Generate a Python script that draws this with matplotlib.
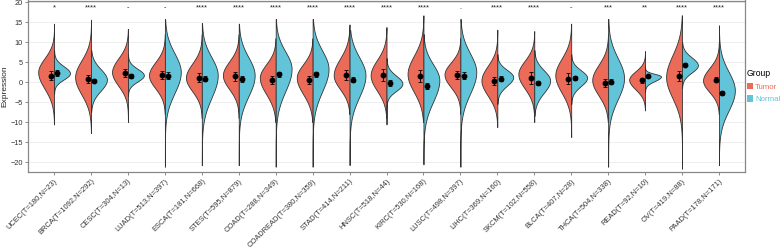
from matplotlib import pyplot as plt
from matplotlib.patches import Patch
import numpy as np

plt.rcParams['font.family'] = ['Liberation Sans', 'DejaVu Sans']

# cancer types and sample sizes
cancers = ['UCEC', 'BRCA', 'CESC', 'LUAD', 'ESCA', 'STES', 'COAD', 'COADREAD', 'STAD', 'HNSC',
           'KIRC', 'LUSC', 'LIHC', 'SKCM', 'BLCA', 'THCA', 'READ', 'OV', 'PAAD']
n_tumor = [180, 1092, 304, 513, 181, 595, 288, 380, 414, 518, 530, 498, 369, 102, 407, 504, 92, 419, 178]
n_normal = [23, 292, 13, 397, 668, 879, 349, 359, 211, 44, 168, 397, 160, 558, 28, 338, 10, 88, 171]
signif = ['*', '****', '-', '-', '****', '****', '****', '****', '****', '****',
          '****', '.', '****', '****', '-', '***', '**', '****', '****']

# tumor violin outline: tail ends, body top/bottom and peak
t_hi = [14.6, 15.6, 13.3, 12, 12, 12, 11, 11, 14.4, 13.75, 16.7, 11, 13.1, 12.75, 14.6, 12, 7.75, 16.7, 10]
t_top = [10.4, 10.8, 10.4, 9.2, 9.2, 9.6, 8.75, 8.75, 11.25, 10.4, 12.5, 8.75, 8.75, 9.6, 11.25, 9.2, 5.4, 13.75, 7.5]
t_peak = [2.5, 1.25, 2.5, 1.7, 1.1, 1.7, 1.1, 1.1, 1.7, 1.7, 2.0, 1.9, 0.4, 2.0, 1.7, 0.5, 0.6, 1.25, 0.4]
t_bot = [-7, -8.75, -5.4, -5.8, -6.7, -6.25, -8.3, -8.3, -6.25, -7.1, -8.3, -5.4, -8.3, -6.25, -8.3, -8.3, -5, -10.8, -6.25]
t_lo = [-10.6, -12.75, -10, -8, -9, -9, -10, -10, -8, -9, -10, -8, -11.25, -10, -13.75, -10, -7.1, -21.7, -8]

# normal violin outline
n_hi = [8, 8, 7, 15.8, 14.75, 14.6, 15.8, 15.8, 13, 6, 12, 15.8, 7, 8, 7, 15.8, 4, 10, 14.2]
n_top = [6.25, 6.7, 5.4, 13.3, 12.1, 12.1, 13.3, 13.75, 12.1, 4.2, 9.6, 13.3, 5.4, 6.25, 5.4, 12.5, 2.9, 8.75, 8.75]
n_peak = [2.2, 0.6, 1.7, 2.5, 1.7, 1.7, 3.3, 3.3, 1.7, -0.4, 0.5, 2.5, 1.25, 0.4, 1.1, 1.0, 1.4, 4.2, -2.1]
n_bot = [-1.4, -5.8, -1.9, -9.6, -11.25, -10.4, -9.6, -9.6, -10.8, -4.6, -12, -10, -3.75, -6.7, -3.75, -11.25, -1.25, 0, -13.75]
n_lo = [-3, -7.5, -3.5, -21.2, -20.8, -20.8, -21.2, -21.2, -20.8, -10.6, -20.6, -21.2, -5.5, -8.5, -5.5, -21.2, -2.5, -1.5, -20.8]

# mean +- error
t_mean = [1.6, 0.75, 2.25, 1.7, 1.1, 1.4, 0.6, 0.4, 1.7, 1.85, 1.4, 1.75, 0.2, 1.0, 0.85, -0.25, 0.4, 1.5, 0.6]
t_err = [1.1, 1.0, 1.1, 1.0, 1.1, 1.1, 1.0, 1.0, 1.2, 1.5, 1.5, 1.0, 1.0, 1.5, 1.4, 0.9, 0.6, 1.2, 0.7]
n_mean = [2.3, 0.3, 1.5, 1.6, 0.85, 0.7, 1.9, 1.9, 0.6, -0.25, -1.0, 1.6, 0.85, -0.25, 1.0, 0.1, 1.4, 4.35, -2.75]
n_err = [0.7, 0.4, 0.4, 0.8, 0.6, 0.8, 0.6, 0.6, 0.7, 0.7, 0.8, 0.8, 0.6, 0.5, 0.5, 0.7, 0.3, 0.3, 0.5]

c_tumor = '#EC6A58'
c_normal = '#62C4D9'
half_w = 0.43


# one half of a split violin
def half_violin(ax, x, lo, top, peak, bot, hi, side, color):
    ys = np.linspace(lo, hi, 400)
    s = np.where(ys >= peak, (top - peak) / 2.3, (peak - bot) / 2.3)
    w = half_w * np.exp(-0.5 * ((ys - peak) / s) ** 2)
    ax.fill_betweenx(ys, x + side * w, x, facecolor=color, edgecolor='#333333', linewidth=0.6, zorder=2)


fig = plt.figure(figsize=(7.84, 2.5), dpi=100)
ax = fig.add_axes([0.036, 0.312, 0.914, 0.686])

xpos = np.arange(len(cancers))
for i, x in enumerate(xpos):
    half_violin(ax, x, t_lo[i], t_top[i], t_peak[i], t_bot[i], t_hi[i], -1, c_tumor)
    half_violin(ax, x, n_lo[i], n_top[i], n_peak[i], n_bot[i], n_hi[i], 1, c_normal)
    ax.text(x, 18.6, signif[i], ha='center', va='center', fontsize=5.3, color='#222222')

ax.errorbar(xpos - 0.09, t_mean, yerr=t_err, fmt='o', color='black', ms=3.2,
            capsize=1.7, elinewidth=0.6, capthick=0.6, zorder=3)
ax.errorbar(xpos + 0.09, n_mean, yerr=n_err, fmt='o', color='black', ms=3.2,
            capsize=1.7, elinewidth=0.6, capthick=0.6, zorder=3)

ax.set_xlim(-0.7, len(cancers) - 0.3)
ax.set_ylim(-22.5, 20.4)
ax.set_yticks(np.arange(-20, 21, 5))
ax.grid(axis='y', color='#EBEBEB', linewidth=0.6, zorder=0)
ax.set_axisbelow(True)

labels = [f'{c}(T={t},N={n})' for c, t, n in zip(cancers, n_tumor, n_normal)]
ax.set_xticks(xpos)
ax.set_xticklabels(labels, rotation=45, ha='right', rotation_mode='anchor', fontsize=5.4, color='#333333')
ax.tick_params(axis='y', labelsize=5.3, labelcolor='#333333')
ax.tick_params(length=2.5, width=0.6, color='#777777', pad=1.5)
for sp in ax.spines.values():
    sp.set_color('#888888')
    sp.set_linewidth(0.9)
ax.set_ylabel('Expression', fontsize=6, labelpad=1, color='#222222')

handles = [Patch(facecolor=c_tumor, edgecolor='none', label='Tumor'),
           Patch(facecolor=c_normal, edgecolor='none', label='Normal')]
leg = ax.legend(handles=handles, title='Group', loc='center left', bbox_to_anchor=(1.0, 0.5),
                frameon=False, fontsize=5.6, title_fontsize=6.2, labelcolor=[c_tumor, c_normal],
                handlelength=0.75, handleheight=0.9, handletextpad=0.3, borderaxespad=0.15,
                borderpad=0.1, alignment='left', labelspacing=0.6)

plt.savefig('out.png', dpi=100)
